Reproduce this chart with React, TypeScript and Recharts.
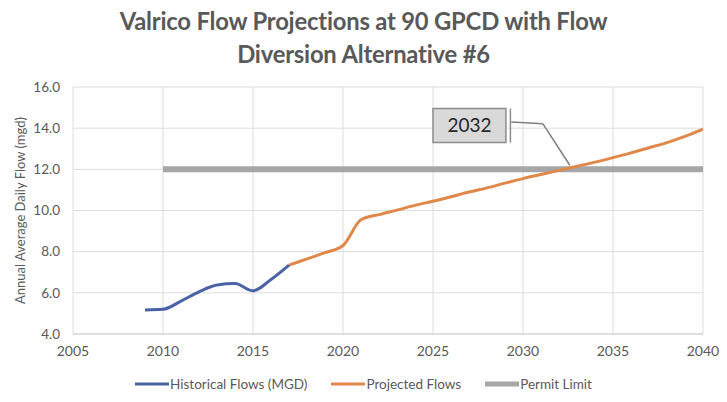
import React from "react";
import {
  LineChart,
  Line,
  XAxis,
  YAxis,
  CartesianGrid,
  ReferenceArea,
  ReferenceLine,
} from "recharts";

const TITLE_LINES = ["Valrico Flow Projections at 90 GPCD with Flow", "Diversion Alternative #6"];
const Y_LABEL = "Annual Average Daily Flow (mgd)";

const histYears = [2009, 2010, 2011, 2012, 2013, 2014, 2015, 2016, 2017];
const histValues = [5.17, 5.2, 5.6, 6.05, 6.38, 6.45, 6.1, 6.65, 7.35];

const projYears = [
  2017, 2018, 2019, 2020, 2021, 2022, 2023, 2024, 2025, 2026, 2027, 2028, 2029,
  2030, 2031, 2032, 2033, 2034, 2035, 2036, 2037, 2038, 2039, 2040,
];
const projValues = [
  7.35, 7.65, 7.95, 8.3, 9.55, 9.8, 10.02, 10.25, 10.45, 10.67, 10.9, 11.1, 11.33,
  11.55, 11.75, 11.95, 12.15, 12.35, 12.57, 12.8, 13.05, 13.3, 13.6, 13.95,
];

const permitYears = [2010, 2040];
const permitValues = [12, 12];

const xTicks = [2005, 2010, 2015, 2020, 2025, 2030, 2035, 2040];
const yTicks = [4, 6, 8, 10, 12, 14, 16];

const calloutText = "2032";
const calloutBox = { x1: 2025, x2: 2029.05, y1: 13.3, y2: 14.95 };
const calloutBar = { x: 2029.3, y1: 13.3, y2: 14.95 };
const leader1 = [
  { x: 2029.35, y: 14.3 },
  { x: 2031.1, y: 14.22 },
];
const leader2 = [
  { x: 2031.1, y: 14.22 },
  { x: 2032.6, y: 12.2 },
];

const SERIES = [
  { key: "hist", name: "Historical Flows (MGD)", color: "#4a62a6", width: 3 },
  { key: "proj", name: "Projected Flows", color: "#e0884a", width: 3 },
  { key: "permit", name: "Permit Limit", color: "#a6a6a6", width: 5 },
];

type Row = { year: number; hist?: number; proj?: number; permit?: number };

function buildData(): Row[] {
  const map = new Map<number, Row>();
  const get = (y: number) => {
    if (!map.has(y)) map.set(y, { year: y });
    return map.get(y)!;
  };
  histYears.forEach((y, i) => (get(y).hist = histValues[i]));
  projYears.forEach((y, i) => (get(y).proj = projValues[i]));
  permitYears.forEach((y, i) => (get(y).permit = permitValues[i]));
  return Array.from(map.values()).sort((a, b) => a.year - b.year);
}

const data = buildData();
const FONT = "Lato, 'Open Sans', sans-serif";
const TEXT = "#595959";

function LegendBox() {
  return (
    <div
      style={{
        position: "absolute",
        left: 0,
        top: 376,
        width: 727,
        display: "flex",
        justifyContent: "center",
        alignItems: "center",
        fontFamily: FONT,
        fontSize: 13.5,
        color: TEXT,
        gap: 24,
      }}
    >
      {SERIES.map((s) => (
        <div key={s.key} style={{ display: "flex", alignItems: "center" }}>
          <svg width={34} height={8} style={{ marginRight: 1 }}>
            <line x1={0} x2={34} y1={4} y2={4} stroke={s.color} strokeWidth={s.width} />
          </svg>
          <span>{s.name}</span>
        </div>
      ))}
    </div>
  );
}

export default function App() {
  return (
    <div style={{ position: "absolute", left: 0, top: 0, width: 727, height: 402, background: "#fff" }}>
      <div
        style={{
          position: "absolute",
          left: 0,
          top: 5,
          width: 727,
          textAlign: "center",
          fontFamily: FONT,
          fontWeight: 700,
          fontSize: 23.8,
          lineHeight: "33px",
          color: TEXT,
          letterSpacing: -0.2,
        }}
      >
        {TITLE_LINES.map((t) => (
          <div key={t}>{t}</div>
        ))}
      </div>
      <LineChart
        width={727}
        height={402}
        data={data}
        margin={{ top: 87, right: 24, bottom: 38, left: 0 }}
        style={{ position: "absolute", left: 0, top: 0 }}
      >
        <CartesianGrid stroke="#dcdcdc" strokeWidth={1} />
        <XAxis
          dataKey="year"
          type="number"
          domain={[2005, 2040]}
          ticks={xTicks}
          height={30}
          tickLine={false}
          axisLine={{ stroke: "#d0d0d0" }}
          tickSize={0}
          tickMargin={12}
          tick={{ fontFamily: FONT, fontSize: 14, fill: TEXT }}
          allowDataOverflow
        />
        <YAxis
          type="number"
          domain={[4, 16]}
          ticks={yTicks}
          tickFormatter={(v: number) => v.toFixed(1)}
          width={73}
          tickLine={false}
          axisLine={false}
          tickSize={0}
          tickMargin={13}
          tick={{ fontFamily: FONT, fontSize: 13.5, fill: TEXT }}
          label={{
            value: Y_LABEL,
            angle: -90,
            position: "insideLeft",
            offset: 20,
            style: { fontFamily: FONT, fontSize: 13, fill: TEXT, textAnchor: "middle" },
          }}
        />
        <Line
          dataKey="permit"
          name={SERIES[2].name}
          stroke={SERIES[2].color}
          strokeWidth={6}
          dot={false}
          activeDot={false}
          connectNulls
          isAnimationActive={false}
        />
        <Line
          dataKey="proj"
          name={SERIES[1].name}
          type="monotone"
          stroke={SERIES[1].color}
          strokeWidth={3}
          dot={false}
          activeDot={false}
          isAnimationActive={false}
        />
        <Line
          dataKey="hist"
          name={SERIES[0].name}
          type="monotone"
          stroke={SERIES[0].color}
          strokeWidth={3}
          dot={false}
          activeDot={false}
          isAnimationActive={false}
        />
        <ReferenceLine segment={leader1} stroke="#7f7f7f" strokeWidth={1.5} />
        <ReferenceLine segment={leader2} stroke="#7f7f7f" strokeWidth={1.5} />
        <ReferenceLine
          segment={[
            { x: calloutBar.x, y: calloutBar.y1 },
            { x: calloutBar.x, y: calloutBar.y2 },
          ]}
          stroke="#8c8c8c"
          strokeWidth={1.5}
        />
        <ReferenceArea
          x1={calloutBox.x1}
          x2={calloutBox.x2}
          y1={calloutBox.y1}
          y2={calloutBox.y2}
          fill="#d9d9d9"
          fillOpacity={1}
          stroke="#8c8c8c"
          strokeWidth={1.5}
          label={{
            value: calloutText,
            position: "center",
            style: { fontFamily: FONT, fontSize: 19, fill: "#262626" },
          }}
        />
      </LineChart>
      <LegendBox />
    </div>
  );
}
